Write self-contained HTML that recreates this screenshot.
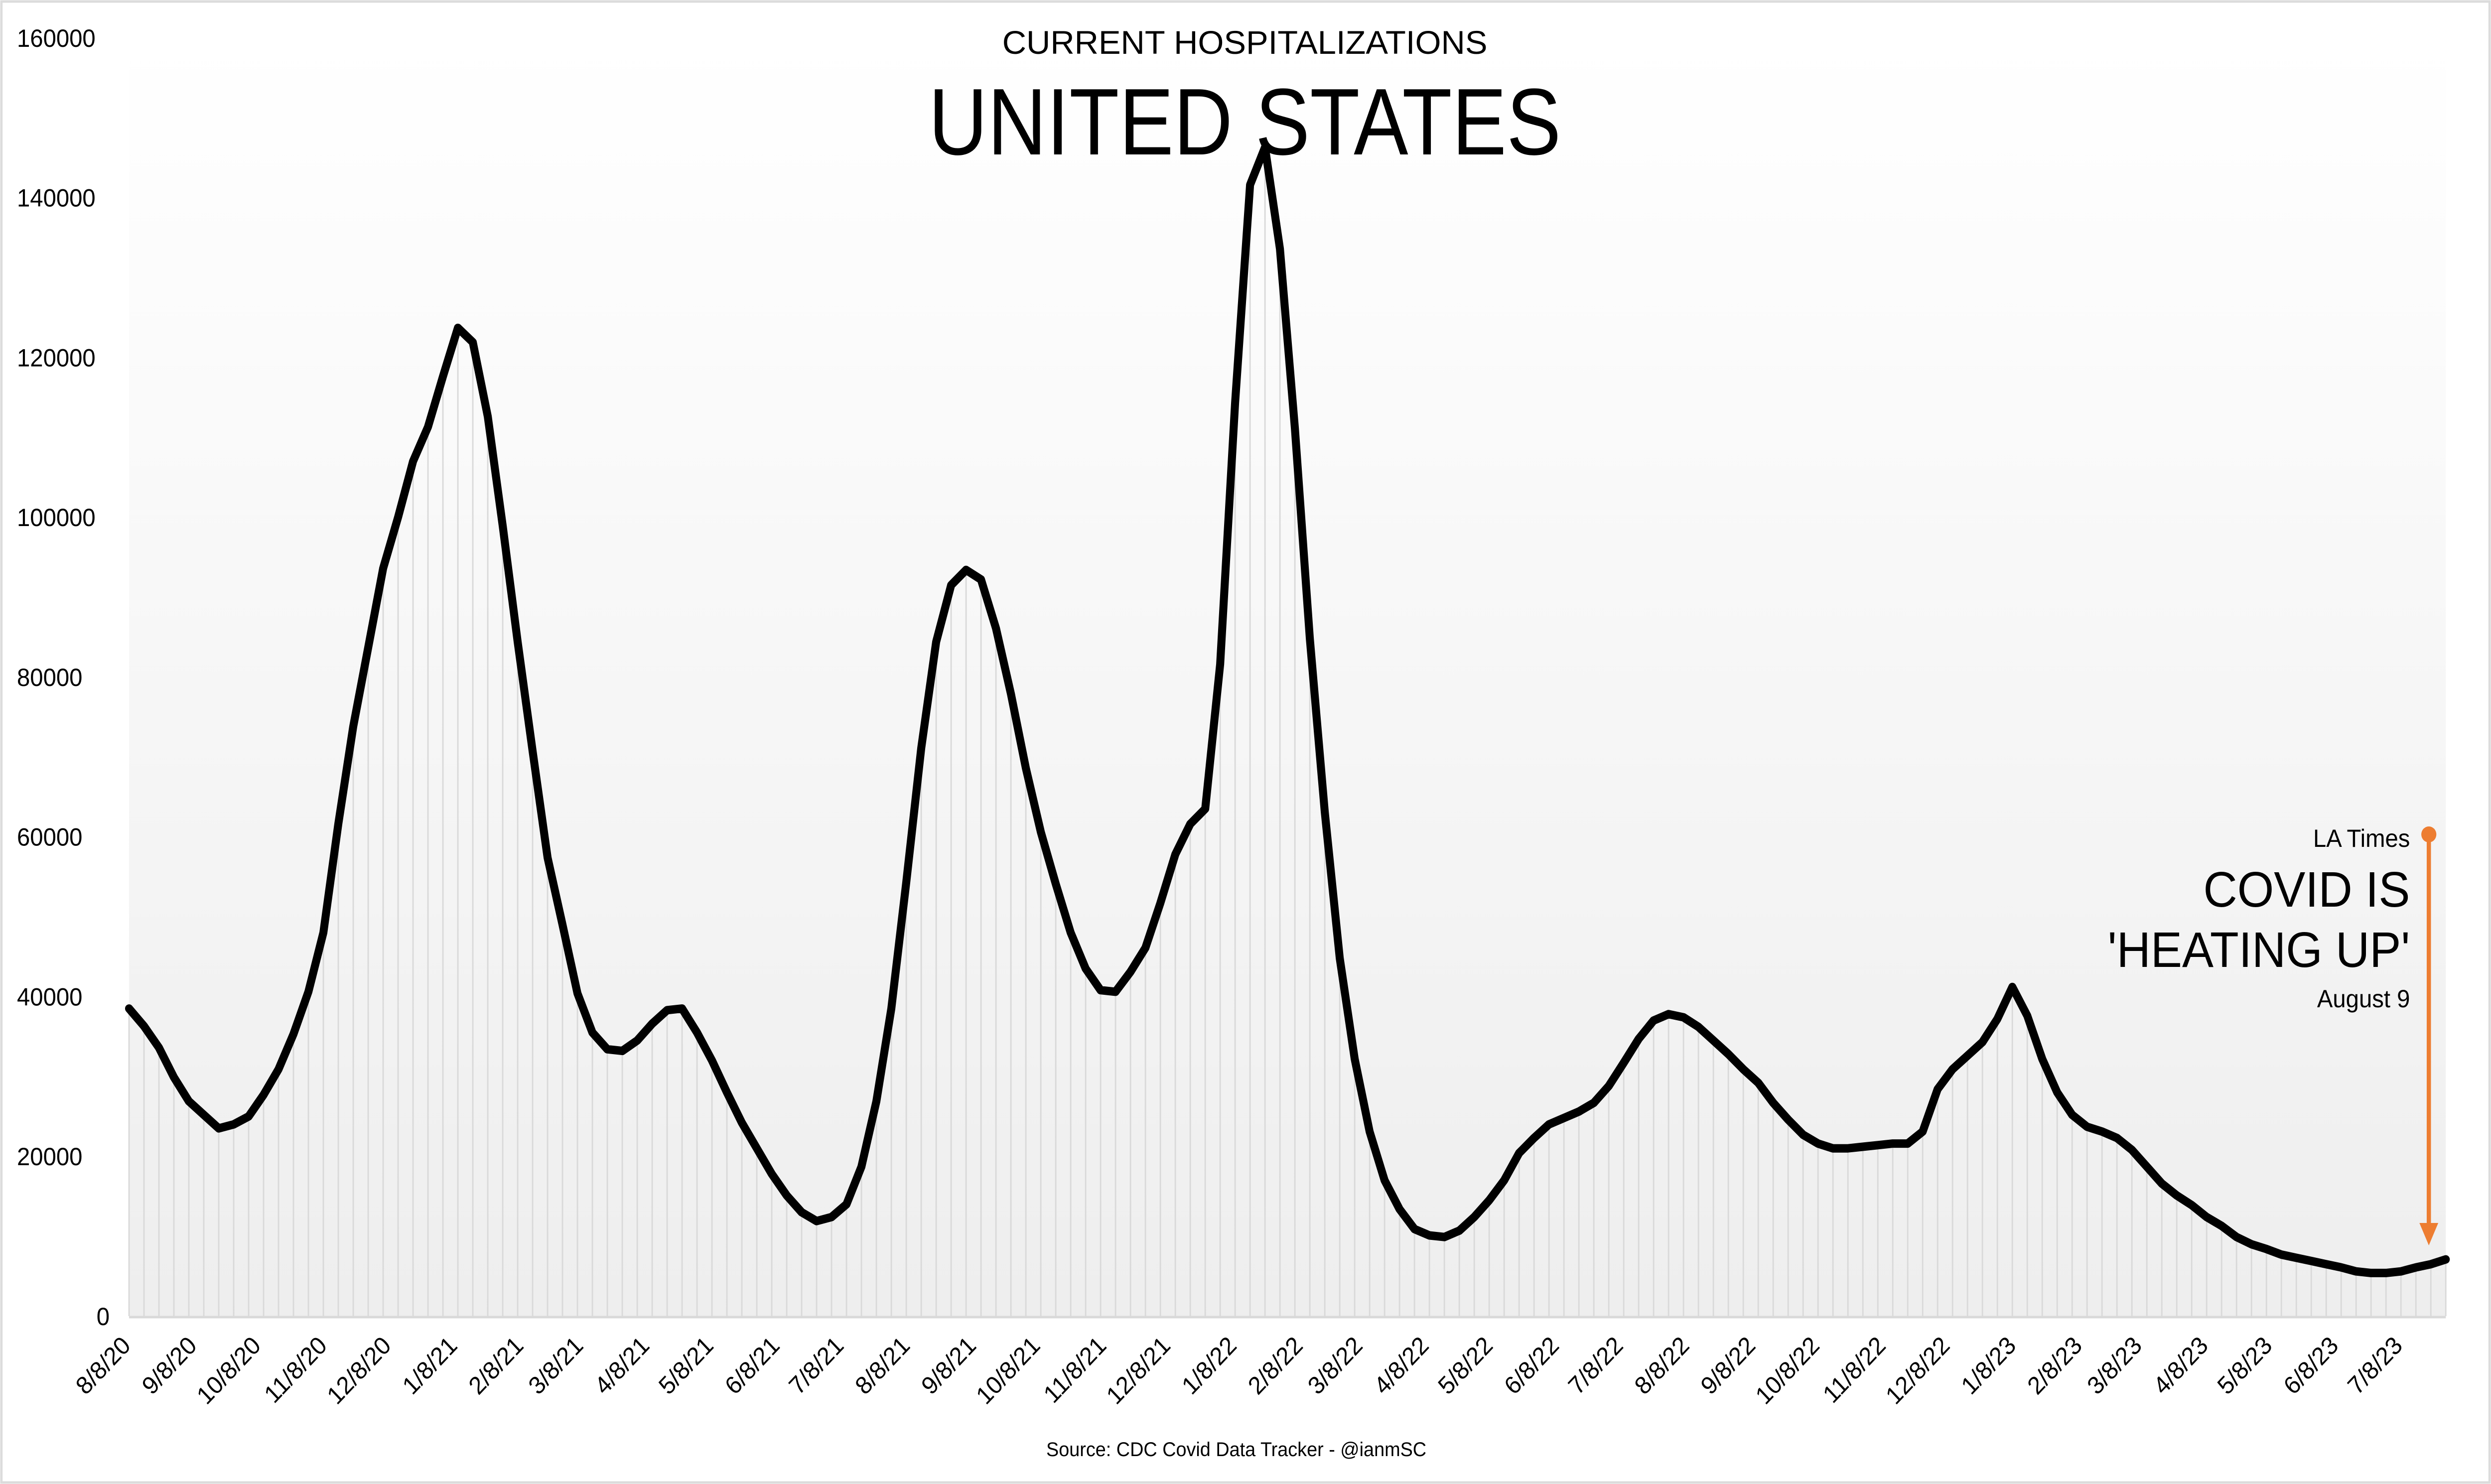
<!DOCTYPE html>
<html><head><meta charset="utf-8"><style>
html,body{margin:0;padding:0;background:#fff;width:100%;height:100%;overflow:hidden;}
svg{display:block;width:100vw;height:100vh;font-family:"Liberation Sans",sans-serif;}
</style></head><body>
<svg id="chart" viewBox="0 0 5289 2979" preserveAspectRatio="none" xmlns="http://www.w3.org/2000/svg">
<defs>
<linearGradient id="bg" x1="0" y1="0" x2="0" y2="1">
<stop offset="0" stop-color="#ffffff"/><stop offset="1" stop-color="#eeeeee"/>
</linearGradient>
</defs>
<rect x="3" y="3" width="5283" height="2973" fill="#fff" stroke="#dcdcdc" stroke-width="5"/>
<rect x="274" y="76" width="4919" height="2566" fill="url(#bg)"/>
<g id="drops"></g>
<g id="yticks"></g>
<g id="xticks"></g>
<path id="line" fill="none" stroke="#000" stroke-width="17" stroke-linejoin="round" stroke-linecap="round"/>
<text x="2643" y="108" font-size="66" text-anchor="middle" fill="#000" textLength="1030" lengthAdjust="spacingAndGlyphs">CURRENT HOSPITALIZATIONS</text>
<text x="2643" y="310" font-size="190" text-anchor="middle" fill="#000" textLength="1343" lengthAdjust="spacingAndGlyphs">UNITED STATES</text>
<g>
<line x1="5157" y1="1675" x2="5157" y2="2470" stroke="#ed7d31" stroke-width="9"/>
<circle cx="5157" cy="1675" r="16" fill="#ed7d31"/>
<polygon points="5137,2455 5177,2455 5157,2500" fill="#ed7d31"/>
<text x="5117" y="1700" font-size="50" text-anchor="end">LA Times</text>
<text x="5117" y="1820" font-size="100" text-anchor="end">COVID IS</text>
<text x="5117" y="1941" font-size="100" text-anchor="end">'HEATING UP'</text>
<text x="5117" y="2022" font-size="50" text-anchor="end">August 9</text>
</g>
<text x="2625" y="2923" font-size="40" text-anchor="middle">Source: CDC Covid Data Tracker - @ianmSC</text>
</svg>
<script>
const values = [38500,36300,33600,29900,26900,25200,23500,24000,25000,27700,30900,35300,40600,48000,61600,73800,83700,93600,100000,107000,111300,117600,123700,121900,112600,98900,84400,70700,57400,49000,40400,35500,33400,33200,34500,36600,38300,38500,35500,32000,28000,24200,21000,17800,15100,13000,11900,12400,14000,18700,26900,38500,54300,71100,84400,91500,93400,92200,86100,77900,68600,60600,54100,48000,43500,40800,40600,43100,46100,51700,57800,61600,63500,81600,114300,141600,146300,133600,111100,84800,63100,44800,32200,23100,17000,13400,10900,10100,9900,10700,12400,14500,17000,20400,22300,24000,24800,25600,26700,28800,31700,34700,37000,37800,37400,36200,34500,32800,30900,29200,26700,24600,22700,21600,21000,21000,21200,21400,21600,21600,23100,28400,30900,32600,34300,37200,41200,37600,32200,28000,25200,23700,23100,22300,20800,18700,16600,15100,13900,12400,11300,9900,9000,8400,7700,7300,6900,6500,6100,5600,5400,5400,5600,6100,6500,7100];
const yTicks = [0,20000,40000,60000,80000,100000,120000,140000,160000];
const xLabels = ["8/8/20","9/8/20","10/8/20","11/8/20","12/8/20","1/8/21","2/8/21","3/8/21","4/8/21","5/8/21","6/8/21","7/8/21","8/8/21","9/8/21","10/8/21","11/8/21","12/8/21","1/8/22","2/8/22","3/8/22","4/8/22","5/8/22","6/8/22","7/8/22","8/8/22","9/8/22","10/8/22","11/8/22","12/8/22","1/8/23","2/8/23","3/8/23","4/8/23","5/8/23","6/8/23","7/8/23"];
const startDate = "8/8/20";

const NS="http://www.w3.org/2000/svg";
const X0=274, X1=5193, Y0=2642, YTOP=76, YMAX=160000;
const step=(X1-X0)/(values.length-1);
const xw = w => X0 + w*step;
const y = v => Y0 - v/YMAX*(Y0-YTOP);
function parseD(s){const p=s.split('/');return Date.UTC(2000+ +p[2], +p[0]-1, +p[1]);}
const t0=parseD(startDate);

const drops=document.getElementById('drops');
values.forEach((v,i)=>{
  const l=document.createElementNS(NS,'line');
  
  
  l.setAttribute('x1',xw(i));l.setAttribute('x2',xw(i));
  l.setAttribute('y1',Y0);l.setAttribute('y2',y(v));
  l.setAttribute('stroke','#d9d9d9');l.setAttribute('stroke-width','3');
  drops.appendChild(l);
});
const base=document.createElementNS(NS,'line');


base.setAttribute('x1',X0);base.setAttribute('x2',X1);base.setAttribute('y1',Y0+2);base.setAttribute('y2',Y0+2);
base.setAttribute('stroke','#d9d9d9');base.setAttribute('stroke-width','5');
drops.appendChild(base);

document.getElementById('line').setAttribute('d',values.map((v,i)=>(i?'L':'M')+xw(i).toFixed(1)+','+y(v).toFixed(1)).join(''));

const yt=document.getElementById('yticks');
yTicks.forEach(v=>{
  const t=document.createElementNS(NS,'text');
  
  
  t.setAttribute('x', v===0 ? 205 : 36);
  t.setAttribute('y',y(v)+18);
  t.setAttribute('font-size','50');
  t.textContent=v;
  yt.appendChild(t);
});

const xt=document.getElementById('xticks');
xLabels.forEach(s=>{
  const w=(parseD(s)-t0)/(7*86400000);
  const x=xw(w)+6, yy=Y0+62;
  const t=document.createElementNS(NS,'text');
  
  
  t.setAttribute('x',x);t.setAttribute('y',yy);
  t.setAttribute('font-size','50');
  t.setAttribute('text-anchor','end');
  t.setAttribute('transform','rotate(-45 '+x+' '+yy+')');
  t.textContent=s;
  xt.appendChild(t);
});
</script>
</body></html>
